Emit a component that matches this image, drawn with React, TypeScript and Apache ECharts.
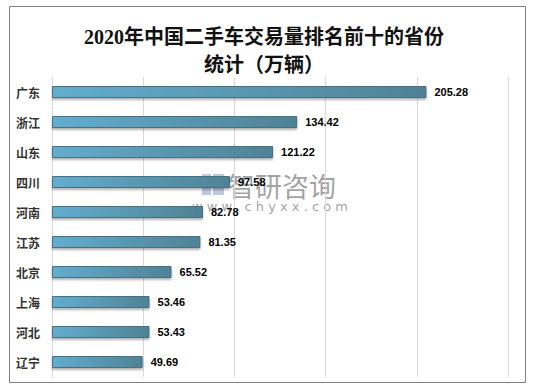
import React, { useEffect, useRef } from "react";
import * as echarts from "echarts";

const categories = ["广东", "浙江", "山东", "四川", "河南", "江苏", "北京", "上海", "河北", "辽宁"];
const values = [205.28, 134.42, 121.22, 97.58, 82.78, 81.35, 65.52, 53.46, 53.43, 49.69];
const titleLines = ["2020年中国二手车交易量排名前十的省份", "统计（万辆）"];

export default function App() {
  const ref = useRef<HTMLDivElement>(null);
  useEffect(() => {
    if (!ref.current) return;
    const chart = echarts.init(ref.current, null, { renderer: "svg" });
    chart.setOption({
      animation: false,
      backgroundColor: "#ffffff",
      title: {
        text: titleLines.join("\n"),
        left: 259,
        textAlign: "center",
        top: 18,
        textStyle: {
          fontFamily: "'Liberation Serif', 'Noto Sans CJK SC'",
          fontWeight: "bold",
          fontSize: 20,
          lineHeight: 28,
          color: "#111",
        },
      },
      graphic: [
        {
          type: "rect",
          shape: { x: 9.5, y: 6.5, width: 516, height: 376 },
          style: { fill: "none", stroke: "#808080", lineWidth: 1 },
          z: 10,
        },
        {
          type: "group",
          z: 20,
          children: [
            { type: "rect", shape: { x: 202, y: 174, width: 9, height: 21 }, style: { fill: "rgba(70,100,160,0.35)" } },
            { type: "rect", shape: { x: 213, y: 174, width: 11, height: 9 }, style: { fill: "rgba(70,100,160,0.35)" } },
            { type: "rect", shape: { x: 213, y: 186, width: 11, height: 9 }, style: { fill: "rgba(70,100,160,0.35)" } },
            {
              type: "text",
              style: {
                x: 228, y: 185, text: "智研咨询", fill: "rgba(100,100,100,0.6)",
                font: "27px 'Noto Sans CJK SC'", verticalAlign: "middle",
              },
            },
            {
              type: "text",
              style: {
                x: 270, y: 206, text: "w w w . c h y x x . c o m", fill: "rgba(100,100,100,0.6)",
                font: "13px 'DejaVu Sans'", align: "center", verticalAlign: "middle",
              },
            },
          ],
        },
      ],
      grid: { left: 52, right: 32, top: 77, bottom: 13, containLabel: false },
      xAxis: {
        type: "value",
        min: 0,
        max: 250,
        interval: 50,
        axisLabel: { show: false },
        axisLine: { show: false },
        axisTick: { show: false },
        splitLine: { lineStyle: { color: "#D9D9D9", width: 1 } },
      },
      yAxis: {
        type: "category",
        data: categories,
        inverse: true,
        axisLine: { show: true, lineStyle: { color: "#D9D9D9" } },
        axisTick: { show: false },
        axisLabel: {
          margin: 12,
          fontFamily: "Noto Sans CJK SC",
          fontSize: 12,
          fontWeight: "bold",
          color: "#333",
        },
      },
      series: [
        {
          type: "bar",
          data: values,
          barWidth: 12,
          itemStyle: {
            color: new echarts.graphic.LinearGradient(0, 0, 1, 0, [
              { offset: 0, color: "#63ADCF" },
              { offset: 1, color: "#4F8295" },
            ]),
            borderColor: "#466F80",
            borderWidth: 1,
            shadowColor: "rgba(0,0,0,0.3)",
            shadowBlur: 2,
            shadowOffsetY: 2,
          },
          label: {
            show: true,
            position: "right",
            distance: 8,
            fontFamily: "Liberation Sans",
            fontSize: 11,
            fontWeight: "bold",
            color: "#000",
            formatter: (p: any) => p.value.toFixed(2),
          },
        },
      ],
    });
    return () => chart.dispose();
  }, []);
  return <div ref={ref} style={{ position: "fixed", left: 0, top: 0, width: 540, height: 390 }} />;
}
